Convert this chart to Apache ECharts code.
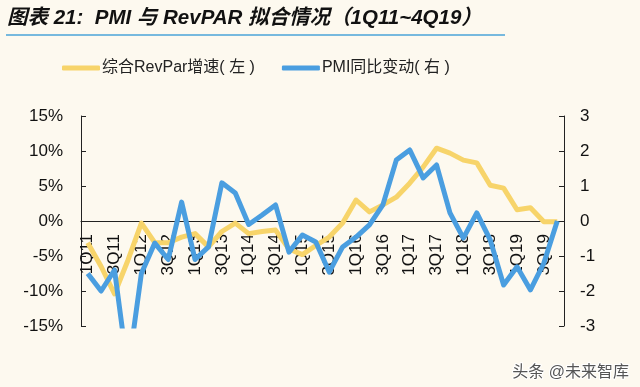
<!DOCTYPE html>
<html>
<head>
<meta charset="utf-8">
<script src="https://cdn.jsdelivr.net/npm/echarts@6/dist/echarts.min.js"></script>
<style>
html,body{margin:0;padding:0;background:#fdf9ef;}
#c{width:640px;height:387px;}
</style>
</head>
<body>
<div id="c"></div>
<script>
const categories = ['1Q11','2Q11','3Q11','4Q11','1Q12','2Q12','3Q12','4Q12','1Q13','2Q13','3Q13','4Q13',
  '1Q14','2Q14','3Q14','4Q14','1Q15','2Q15','3Q15','4Q15','1Q16','2Q16','3Q16','4Q16',
  '1Q17','2Q17','3Q17','4Q17','1Q18','2Q18','3Q18','4Q18','1Q19','2Q19','3Q19','4Q19'];
const revparGrowth = [-3.1,-6.5,-10.4,-5.6,-0.3,-3.1,-3.1,-2.3,-1.8,-3.7,-1.5,-0.3,
  -1.8,-1.5,-1.3,-4.0,-4.8,-3.5,-2.3,-0.3,3.0,1.3,2.3,3.4,
  5.4,7.7,10.4,9.7,8.7,8.3,5.1,4.7,1.6,1.9,-0.1,-0.1];
const pmiChange = [-1.5,-2.0,-1.4,-4.3,-1.5,-0.63,-1.1,0.54,-1.1,-0.74,1.09,0.8,
  -0.1,0.17,0.46,-0.89,-0.4,-0.6,-1.46,-0.74,-0.46,-0.11,0.46,1.74,
  2.03,1.23,1.6,0.23,-0.49,0.23,-0.54,-1.83,-1.31,-1.97,-1.2,0.0];
const leftTicks = {min:-15, max:15, interval:5};
const rightTicks = {min:-3, max:3, interval:1};
const seriesNames = ['综合RevPar增速( 左 )','PMI同比变动( 右 )'];
const titleText = '图表 21:  PMI 与 RevPAR 拟合情况（1Q11~4Q19）';
const watermark = '头条 @未来智库';

const gridTop = 116, gridBottom = 61, H = 387;
const zeroOffset = -((H - gridTop - gridBottom) / 2);

const chart = echarts.init(document.getElementById('c'), null, {renderer:'canvas'});
const font = '"Liberation Sans", Arial, "Noto Sans CJK SC", sans-serif';
const yellow = '#f7d46a';
const blue = '#4a9ee0';
chart.setOption({
  backgroundColor:'#fdf9ef',
  animation:false,
  textStyle:{fontFamily:font},
  title:{
    text:titleText, left:2, top:3, padding:5,
    textStyle:{fontSize:20.5, fontWeight:'bold', fontStyle:'italic', color:'#111', fontFamily:font}
  },
  graphic:[
    {type:'line', shape:{x1:6,y1:35,x2:505,y2:35}, style:{stroke:'#4aa3d8', lineWidth:1.5}},
    {type:'text', right:10, top:364, style:{text:watermark, fontSize:16, fill:'#555', fontFamily:font, stroke:'#fff', lineWidth:2}}
  ],
  legend:{
    left:57, top:55, itemGap:27, itemWidth:38, itemHeight:5,
    icon:'roundRect',
    textStyle:{fontSize:16, color:'#222', padding:[0,0,0,-3]},
    data:seriesNames
  },
  grid:{left:81, right:76, top:gridTop, bottom:gridBottom},
  xAxis:{
    type:'category', data:categories, boundaryGap:true, position:'bottom', offset:zeroOffset, z:0,
    axisLine:{onZero:false, lineStyle:{color:'#222', width:1}},
    axisTick:{inside:true, length:5, lineStyle:{color:'#222'}, interval:0},
    axisLabel:{rotate:90, interval:1, fontSize:17, color:'#111', margin:13}
  },
  yAxis:[
    {type:'value', min:leftTicks.min, max:leftTicks.max, interval:leftTicks.interval, z:0,
     axisLine:{show:true, lineStyle:{color:'#222'}},
     axisTick:{show:true, inside:true, length:5, lineStyle:{color:'#222'}},
     axisLabel:{formatter:'{value}%', fontSize:17, color:'#111', margin:18},
     splitLine:{show:false}},
    {type:'value', min:rightTicks.min, max:rightTicks.max, interval:rightTicks.interval, position:'right', z:0,
     axisLine:{show:true, lineStyle:{color:'#222'}},
     axisTick:{show:true, inside:true, length:5, lineStyle:{color:'#222'}},
     axisLabel:{fontSize:17, color:'#111', margin:16},
     splitLine:{show:false}}
  ],
  series:[
    {name:seriesNames[0], type:'line', yAxisIndex:0, data:revparGrowth, showSymbol:false, symbol:'none', z:10,
     lineStyle:{color:yellow, width:5, join:'round'}, itemStyle:{color:yellow}},
    {name:seriesNames[1], type:'line', yAxisIndex:1, data:pmiChange, showSymbol:false, symbol:'none', z:11,
     lineStyle:{color:blue, width:5, join:'round'}, itemStyle:{color:blue}}
  ]
});
</script>
</body>
</html>
